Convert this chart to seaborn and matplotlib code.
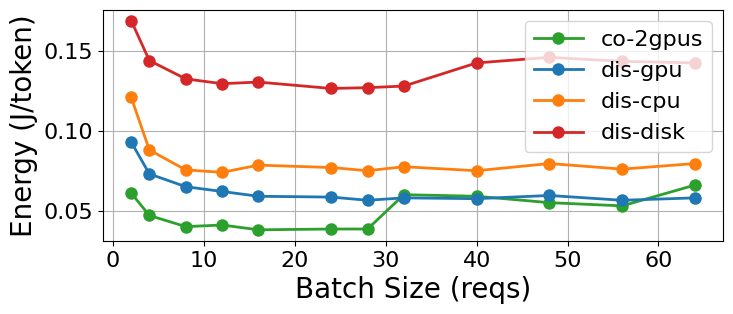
import matplotlib
matplotlib.use("Agg")
import matplotlib.pyplot as plt
import pandas as pd
import seaborn as sns

batch = [2, 4, 8, 12, 16, 24, 28, 32, 40, 48, 56, 64]
co_2gpus = [0.061, 0.047, 0.040, 0.041, 0.038, 0.0385, 0.0385, 0.060, 0.059, 0.055, 0.053, 0.066]
dis_gpu = [0.093, 0.073, 0.065, 0.062, 0.059, 0.0585, 0.0565, 0.058, 0.0575, 0.0595, 0.0565, 0.058]
dis_cpu = [0.121, 0.088, 0.0755, 0.074, 0.0785, 0.077, 0.075, 0.0775, 0.075, 0.0795, 0.076, 0.0795]
dis_disk = [0.169, 0.144, 0.1325, 0.1295, 0.1305, 0.1265, 0.127, 0.128, 0.1425, 0.146, 0.1435, 0.1425]

series = {
    "co-2gpus": co_2gpus,
    "dis-gpu": dis_gpu,
    "dis-cpu": dis_cpu,
    "dis-disk": dis_disk,
}
colors = ["#2ca02c", "#1f77b4", "#ff7f0e", "#d62728"]

df = pd.DataFrame(
    [(b, name, v) for name, vals in series.items() for b, v in zip(batch, vals)],
    columns=["batch", "method", "energy"],
)

fig, ax = plt.subplots(figsize=(7.33, 3.14), dpi=100)
sns.lineplot(
    data=df,
    x="batch",
    y="energy",
    hue="method",
    palette=colors,
    marker="o",
    markersize=9,
    markeredgewidth=0,
    linewidth=2,
    ax=ax,
)

ax.grid(True, color="#b0b0b0", linewidth=0.8)
ax.set_xlabel("Batch Size (reqs)", fontsize=20)
ax.set_ylabel("Energy (J/token)", fontsize=20)
ax.tick_params(labelsize=16)
ax.set_ylim(0.031, 0.1756)
ax.legend(loc="upper right", fontsize=16, title=None, handlelength=2.2)

fig.subplots_adjust(left=0.1405, right=0.9864, top=0.968, bottom=0.2325)
plt.savefig("out.png", dpi=100)
